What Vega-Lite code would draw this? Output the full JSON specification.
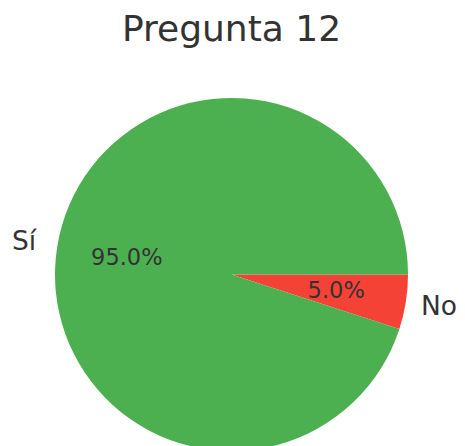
{
  "$schema": "https://vega.github.io/schema/vega-lite/v6.json",
  "autosize": {"type": "none"},
  "padding": {"top": 98, "left": 0, "right": 2, "bottom": 0},
  "width": 463,
  "height": 353,
  "background": "white",
  "title": {
    "text": "Pregunta 12",
    "font": "DejaVu Sans",
    "fontSize": 36,
    "fontWeight": "normal",
    "color": "#333333",
    "anchor": "middle",
    "offset": 49
  },
  "config": {"view": {"stroke": null}},
  "data": {
    "values": [
      {"label": "No", "share": 0.05, "order": 1},
      {"label": "Sí", "share": 0.95, "order": 2}
    ]
  },
  "encoding": {
    "theta": {
      "field": "share",
      "type": "quantitative",
      "stack": true,
      "scale": {"range": [1.5708, 7.854]}
    },
    "order": {"field": "order", "type": "quantitative"}
  },
  "layer": [
    {
      "mark": {"type": "arc", "outerRadius": 176.5},
      "encoding": {
        "color": {
          "field": "label",
          "type": "nominal",
          "scale": {"domain": ["No", "Sí"], "range": ["#F44336", "#4CAF50"]},
          "legend": null
        }
      }
    },
    {
      "mark": {"type": "text", "radius": 106, "font": "DejaVu Sans", "fontSize": 22.5, "color": "#333333", "align": "center", "baseline": "middle"},
      "encoding": {
        "text": {"field": "share", "type": "quantitative", "format": ".1%"}
      }
    },
    {
      "mark": {"type": "text", "radius": 210, "font": "DejaVu Sans", "fontSize": 26.5, "color": "#333333", "align": "center", "baseline": "middle"},
      "encoding": {
        "text": {"field": "label", "type": "nominal"}
      }
    }
  ]
}
